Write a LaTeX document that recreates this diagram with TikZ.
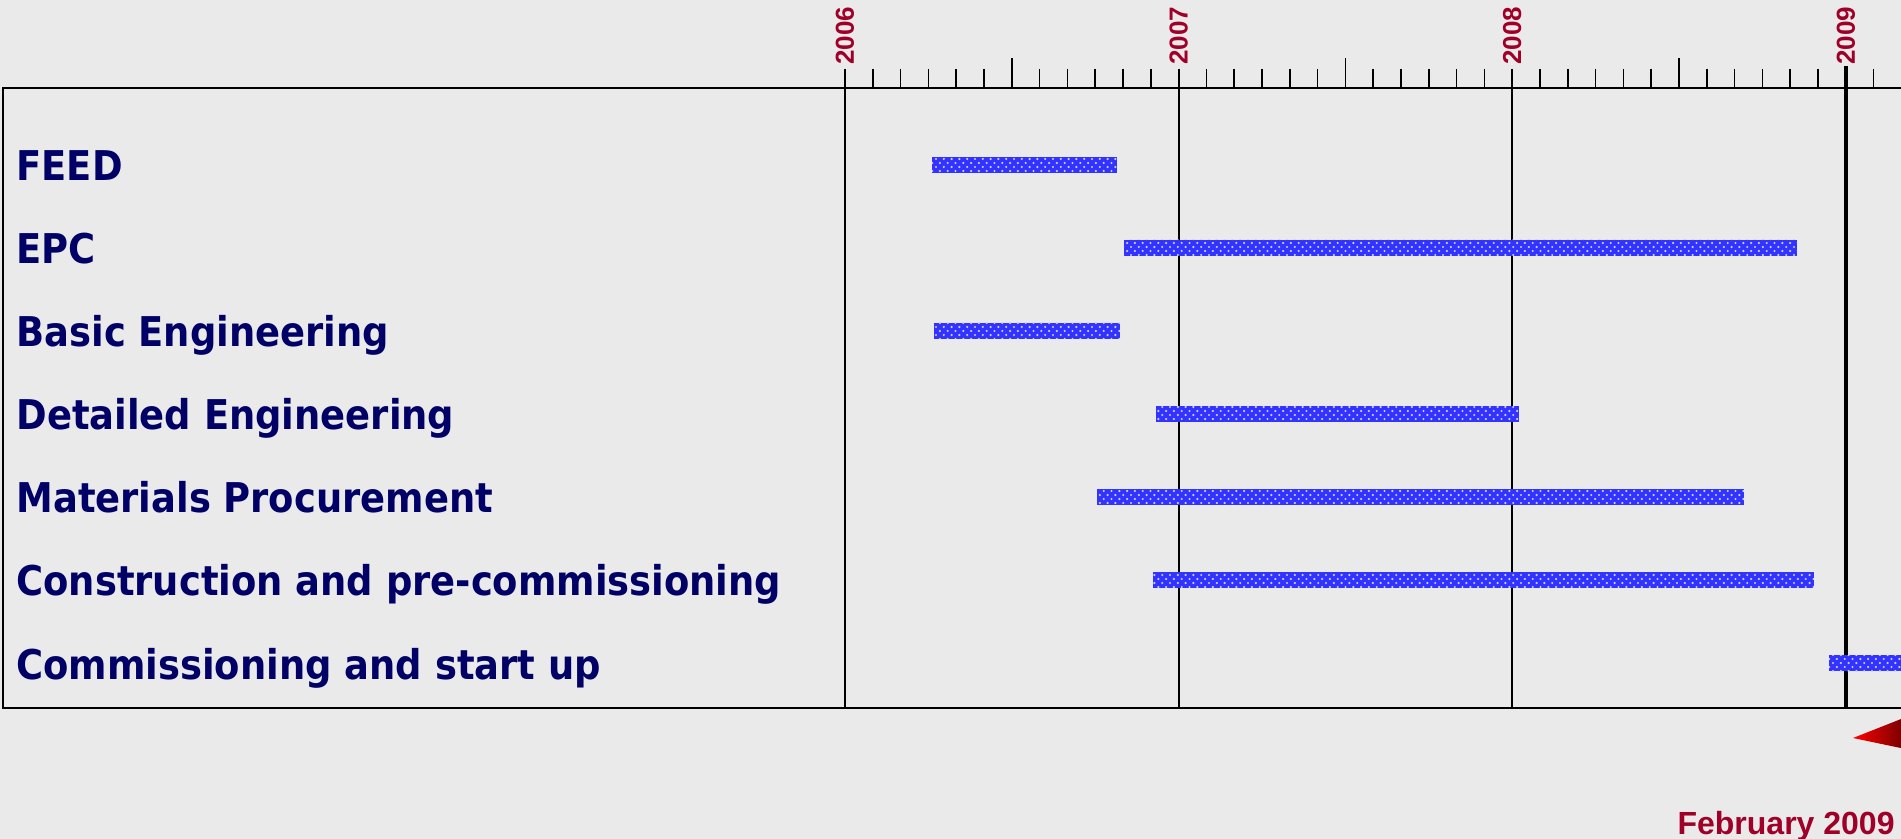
\documentclass[tikz,border=0pt]{standalone}
\usepackage{fontspec}
\setmainfont{Liberation Sans}
\newfontfamily\taskfont{DejaVu Sans Condensed}
\usetikzlibrary{patterns.meta,shadings}

\definecolor{chartbg}{RGB}{234,234,234}
\definecolor{tasknavy}{RGB}{0,0,102}
\definecolor{yearred}{RGB}{160,0,40}
\definecolor{barblue}{RGB}{51,51,255}

\tikzdeclarepattern{
  name=bardots,
  type=uncolored,
  bounding box={(-1pt,-1pt) and (5pt,5pt)},
  tile size={(3.9pt,4pt)},
  code={
    \fill (0pt,0pt) circle (0.6pt);
    \fill (1.95pt,2pt) circle (0.6pt);
  }
}

\tikzset{
  tasklabel/.style={font=\taskfont\bfseries\fontsize{20.5}{24}\selectfont,
    text=tasknavy, anchor=base west, inner sep=0pt},
  yearlabel/.style={font=\bfseries\fontsize{13}{15}\selectfont,
    text=yearred, rotate=90, anchor=west, inner sep=0pt},
  taskbar/.style={fill=barblue,
    postaction={pattern=bardots, pattern color=white!75!barblue}},
  monthtick/.style={line width=0.8pt},
  yearline/.style={line width=1pt},
}

\begin{document}
\begin{tikzpicture}[x=0.5pt, y=-0.5pt]

  % Canvas
  \fill[chartbg] (0,0) rectangle (1901,839);
  \useasboundingbox (0,0) rectangle (1901,839);
  \clip (0,0) rectangle (1901,839);

  % Frame of the chart
  \draw[line width=1pt] (1910,88) -| (3,708) -- (1910,708); %

  % Month ticks
  \foreach \m in {1,...,37}{ %
    \pgfmathsetmacro\tx{845+27.8*\m}
    \pgfmathtruncatemacro\mm{mod(\m,12)}
    \ifnum\mm=0 \else
      \ifnum\mm=6
        \draw[monthtick] (\tx,58) -- (\tx,88);
      \else
        \draw[monthtick] (\tx,69) -- (\tx,88);
      \fi
    \fi
  }

  % Years
  \foreach \yr [count=\i from 0] in {2006,2007,2008,2009}{ %
    \pgfmathsetmacro\yx{845+333.6*\i}
    \node[yearlabel] (y\yr) at (\yx,65) {\yr};
  }
  \draw[yearline] (845,69) -- (845,708); %
  \draw[yearline] (1178.6,69) -- (1178.6,708); %
  \draw[yearline] (1512.2,69) -- (1512.2,708); %
  \draw[line width=1.8pt] (1845.8,66) -- (1845.8,708); %

  % Tasks and bars
  \foreach \task/\from/\to [count=\i from 0] in {%
      FEED/932/1117,
      EPC/1124/1797,
      Basic Engineering/934/1120,
      Detailed Engineering/1156/1519,
      Materials Procurement/1097/1744,
      Construction and pre-commissioning/1153/1814,
      Commissioning and start up/1829/1910}{ %
    \pgfmathsetmacro\yc{165+83*\i}
    \node[tasklabel] (t\i) at (16,\yc+16) {\task};
    \path[taskbar] (\from,\yc-8) rectangle (\to,\yc+8);
  }

  % Today marker
  \shade[left color=red, right color=red!35!black] %
    (1853,738) -- (1915,713.5) -- (1915,751) -- cycle;
  \node[font=\bfseries\fontsize{16}{19}\selectfont, text=yearred,
    anchor=base east, inner sep=0pt] (today) at (1895,834) {February 2009};

\end{tikzpicture}
\end{document}
